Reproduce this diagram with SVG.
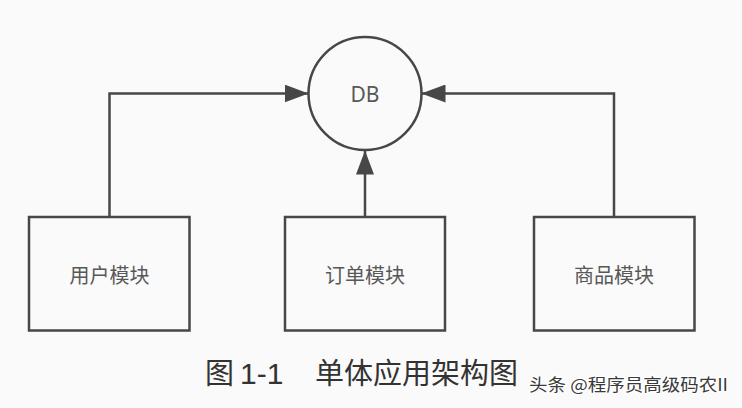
<svg xmlns="http://www.w3.org/2000/svg" width="742" height="408" viewBox="0 0 742 408">
  <style>
    .node { fill: none; stroke: #474747; stroke-width: 2.5; }
    .conn { fill: none; stroke: #474747; stroke-width: 2.5; }
    .lbl { font-family: "Noto Sans CJK SC", "Noto Sans", sans-serif; font-size: 20px; fill: #585858; text-anchor: middle; }
    .db { font-family: "Noto Sans", "Liberation Sans", sans-serif; font-size: 21px; fill: #585858; text-anchor: middle; }
    .cap { font-family: "Noto Sans CJK SC", "Noto Sans", sans-serif; font-size: 29px; fill: #333333; }
    .capnum { font-family: "Liberation Sans", "Noto Sans", sans-serif; font-size: 30px; fill: #333333; }
    .wm { font-family: "Noto Sans CJK SC", "Noto Sans", sans-serif; font-size: 17px; fill: #3a3a3a; stroke: #ffffff; stroke-width: 2.5; paint-order: stroke; }
  </style>
  <defs>
    <marker id="arrow" viewBox="0 0 24 18" refX="24" refY="9" markerWidth="24" markerHeight="18" markerUnits="userSpaceOnUse" orient="auto">
      <path d="M0,0 L24,9 L0,18 Z" fill="#474747"/>
    </marker>
  </defs>
  <rect x="0" y="0" width="742" height="408" fill="#fafafa"/>

  <g id="connectors">
    <path class="conn" d="M109.5,217 L109.5,93.5 L308.5,93.5" marker-end="url(#arrow)"/>
    <path class="conn" d="M614,217 L614,93.5 L421.5,93.5" marker-end="url(#arrow)"/>
    <path class="conn" d="M365,217 L365,150.5" marker-end="url(#arrow)"/>
  </g>

  <g id="db">
    <circle class="node" cx="365" cy="93.5" r="56.5"/>
    <text class="db" x="365" y="101.5">DB</text>
  </g>

  <g id="user-module">
    <rect class="node" x="29" y="217" width="160.5" height="113.5"/>
    <text class="lbl" x="109.5" y="283">用户模块</text>
  </g>

  <g id="order-module">
    <rect class="node" x="285" y="217" width="160" height="113.5"/>
    <text class="lbl" x="365" y="283">订单模块</text>
  </g>

  <g id="product-module">
    <rect class="node" x="534" y="217" width="160.5" height="113.5"/>
    <text class="lbl" x="614" y="283">商品模块</text>
  </g>

  <g id="caption">
    <text class="cap" x="205" y="384">图</text>
    <text class="capnum" x="240" y="384">1-1</text>
    <text class="cap" x="315" y="384">单体应用架构图</text>
  </g>

  <g id="watermark">
    <text class="wm" x="529" y="391" textLength="199" lengthAdjust="spacingAndGlyphs">头条 @程序员高级码农II</text>
  </g>
</svg>
